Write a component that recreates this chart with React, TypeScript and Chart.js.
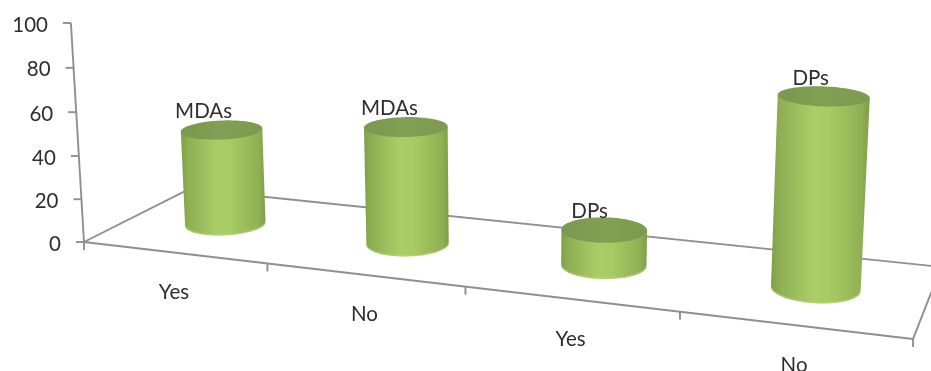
import React, { useEffect, useRef } from "react";
import { Chart, BarController, BarElement, CategoryScale, LinearScale } from "chart.js";

const categories = ["Yes", "No", "Yes", "No"];
const mdaValues = [45, 54, null, null];
const dpValues = [null, null, 16, 82];
const valueTicks = [0, 20, 40, 60, 80, 100];

const FONT = '20.5px Lato, "Open Sans", sans-serif';
const TEXT = "#2e2e2e";
const AXIS = "#8f8f8f";
const DEPTH_RADIUS = 0.2; // cylinder radius along the depth axis of the floor

// Projective camera: u runs along the floor, v into the depth, h up the value axis.
function project(u: number, v: number, h: number) {
  const w = 1 - 0.1477 * u + 0.1077 * v - 0.0293 * h;
  return {
    x: (84 + 694.2 * u + 125.4 * v - 15.17 * h) / w,
    y: (242 + 46.9 * u - 32.6 * v - 219.7 * h) / w,
  };
}

function ellipse(u: number, h: number, ru: number) {
  const pts: { x: number; y: number }[] = [];
  for (let i = 0; i < 96; i++) {
    const t = (i / 96) * Math.PI * 2;
    pts.push(project(u + ru * Math.cos(t), 0.5 + DEPTH_RADIUS * Math.sin(t), h));
  }
  return pts;
}

function drawCylinder(ctx: CanvasRenderingContext2D, u: number, h: number, ru: number) {
  const base = ellipse(u, 0, ru);
  const top = ellipse(u, h, ru);
  const extreme = (pts: { x: number }[], sign: number) =>
    pts.reduce((best, p, i) => (sign * p.x > sign * pts[best].x ? i : best), 0);
  const iR = extreme(base, 1);
  const iL = extreme(base, -1);

  // Front arc of the base, walked from the left edge to the right edge.
  const arc: { x: number; y: number }[] = [];
  const n = base.length;
  for (let i = iL; ; i = (i + 1) % n) {
    arc.push(base[i]);
    if (i === iR) break;
  }
  const tL = top[extreme(top, -1)];
  const tR = top[extreme(top, 1)];

  const side = new Path2D();
  side.moveTo(tL.x, tL.y);
  arc.forEach((p) => side.lineTo(p.x, p.y));
  side.lineTo(tR.x, tR.y);
  side.closePath();

  const grad = ctx.createLinearGradient(Math.min(tL.x, base[iL].x), 0, Math.max(tR.x, base[iR].x), 0);
  grad.addColorStop(0, "#7f9e4b");
  grad.addColorStop(0.08, "#8dae52");
  grad.addColorStop(0.42, "#aacd67");
  grad.addColorStop(0.58, "#a8cc64");
  grad.addColorStop(0.92, "#8fb053");
  grad.addColorStop(1, "#7e9d4a");
  ctx.fillStyle = grad;
  ctx.fill(side);

  // Pale rim along the lower edge of the side wall.
  ctx.beginPath();
  arc.forEach((p, i) => (i ? ctx.lineTo(p.x, p.y - 0.8) : ctx.moveTo(p.x, p.y - 0.8)));
  ctx.strokeStyle = "rgba(190,220,125,0.45)";
  ctx.lineWidth = 1.6;
  ctx.stroke();

  ctx.beginPath();
  top.forEach((p, i) => (i ? ctx.lineTo(p.x, p.y) : ctx.moveTo(p.x, p.y)));
  ctx.closePath();
  const cap = ctx.createLinearGradient(tL.x, 0, tR.x, 0);
  cap.addColorStop(0, "#7a9850");
  cap.addColorStop(0.5, "#80a052");
  cap.addColorStop(1, "#7d9b50");
  ctx.fillStyle = cap;
  ctx.fill();
}

// Bars rendered as cylinders standing on the projected floor.
class CylinderController extends BarController {
  static id = "cylinder";
  static defaults = { ...BarController.defaults };
  static overrides = BarController.overrides;

  draw() {
    const chart = this.chart;
    const ctx = chart.ctx;
    const { left, right, top, bottom } = chart.chartArea;
    const meta = this.getMeta();
    const label = this.getDataset().label as string;
    meta.data.forEach((el: any, i: number) => {
      const value = (this.getDataset().data as (number | null)[])[i];
      if (value === null) return;
      const u = (el.x - left) / (right - left);
      const h = (el.base - el.y) / (bottom - top);
      const ru = el.width / (right - left) / 2;
      drawCylinder(ctx, u, h, ru);
      const p = project(u, 0.5, h);
      ctx.font = FONT;
      ctx.fillStyle = TEXT;
      ctx.textAlign = "center";
      ctx.textBaseline = "middle";
      ctx.fillText(label, p.x - 19 + 7 * u, p.y - 18);
    });
  }
}

// Floor outline and both axes, placed through the projection from the chart's own scales.
const projectedAxes = {
  id: "projectedAxes",
  beforeDatasetsDraw(chart: any) {
    const ctx = chart.ctx;
    const xScale = chart.scales.x;
    const yScale = chart.scales.y;
    const { left, right, top, bottom } = chart.chartArea;
    const seg = (a: { x: number; y: number }, b: { x: number; y: number }) => {
      ctx.beginPath();
      ctx.moveTo(a.x, a.y);
      ctx.lineTo(b.x, b.y);
      ctx.stroke();
    };
    ctx.save();
    ctx.strokeStyle = AXIS;
    ctx.lineWidth = 1.9;
    seg(project(0, 0, 0), project(1, 0, 0));
    seg(project(1, 0, 0), project(1, 1, 0));
    seg(project(1, 1, 0), project(0, 1, 0));
    seg(project(0, 1, 0), project(0, 0, 0));
    seg(project(0, 0, 0), project(0, 0, 1));

    ctx.font = FONT;
    ctx.fillStyle = TEXT;
    ctx.textBaseline = "middle";

    ctx.textAlign = "right";
    yScale.ticks.forEach((tick: any) => {
      const h = (bottom - yScale.getPixelForValue(tick.value)) / (bottom - top);
      const p = project(0, 0, h);
      seg(p, { x: p.x - 8, y: p.y });
      ctx.fillText(String(tick.value), p.x - 23, p.y + 2);
    });

    ctx.textAlign = "center";
    const count = xScale.ticks.length;
    for (let i = 0; i <= count; i++) {
      const p = project(i / count, 0, 0);
      seg(p, { x: p.x, y: p.y + 8 });
    }
    xScale.ticks.forEach((tick: any, i: number) => {
      const u = (xScale.getPixelForTick(i) - left) / (right - left);
      const p = project(u, 0, 0);
      ctx.fillText(xScale.getLabelForValue(tick.value), p.x, p.y + 40);
    });
    ctx.restore();
  },
};

Chart.register(CylinderController, BarElement, CategoryScale, LinearScale);

export default function App() {
  const ref = useRef<HTMLCanvasElement>(null);
  useEffect(() => {
    const chart = new Chart(ref.current!, {
      type: "cylinder" as any,
      data: {
        labels: categories,
        datasets: [
          { label: "MDAs", data: mdaValues, clip: false },
          { label: "DPs", data: dpValues, clip: false },
        ],
      },
      plugins: [projectedAxes],
      options: {
        animation: false,
        responsive: false,
        events: [],
        grouped: false,
        barPercentage: 0.4,
        categoryPercentage: 1,
        layout: { padding: { left: 84, right: 18, top: 23, bottom: 129 } },
        plugins: { legend: { display: false }, tooltip: { enabled: false }, title: { display: false } },
        scales: {
          x: { type: "category", offset: true, display: false },
          y: {
            type: "linear",
            min: valueTicks[0],
            max: valueTicks[valueTicks.length - 1],
            ticks: { stepSize: valueTicks[1] - valueTicks[0] },
            display: false,
          },
        },
      } as any,
    });
    return () => chart.destroy();
  }, []);
  return (
    <div style={{ position: "fixed", left: 0, top: 0, width: 931, height: 371, background: "#fff" }}>
      <canvas ref={ref} width={931} height={371} style={{ display: "block" }} />
    </div>
  );
}
